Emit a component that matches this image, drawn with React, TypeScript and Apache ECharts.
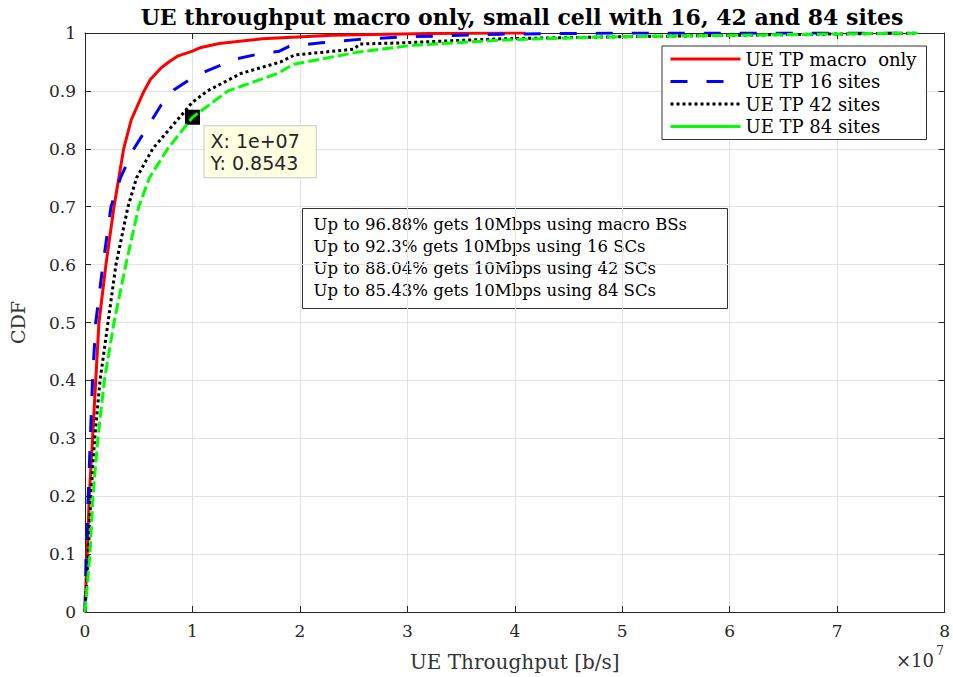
import React, { useEffect, useRef } from "react";
import * as echarts from "echarts";

const titleText = "UE throughput macro only, small cell with 16, 42 and 84 sites";
const seriesNames = ["UE TP macro  only", "UE TP 16 sites", "UE TP 42 sites", "UE TP 84 sites"];

// x: UE throughput [b/s], y: CDF
const macroOnly: [number, number][] = [
  [0, 0], [0.5e5, 0.03], [2e5, 0.1], [4e5, 0.2], [7e5, 0.3], [1.0e6, 0.4], [1.3e6, 0.5],
  [1.95e6, 0.6], [2.7e6, 0.7], [3.6e6, 0.8], [4.3e6, 0.85], [5.5e6, 0.9], [6.1e6, 0.92],
  [7.1e6, 0.94], [7.8e6, 0.95], [8.6e6, 0.96], [1e7, 0.9688], [1.08e7, 0.975], [1.25e7, 0.982],
  [1.65e7, 0.99], [2.3e7, 0.996], [3.2e7, 0.999], [4.1e7, 1],
];
const sites16: [number, number][] = [
  [0, 0], [1e5, 0.1], [3e5, 0.2], [5e5, 0.3], [7e5, 0.4], [1.0e6, 0.5], [1.67e6, 0.6],
  [2.42e6, 0.7], [3.3e6, 0.75], [4.55e6, 0.8], [5.9e6, 0.84], [7.1e6, 0.876], [8.3e6, 0.902],
  [1e7, 0.923], [1.14e7, 0.935], [1.4e7, 0.955], [1.65e7, 0.965], [1.8e7, 0.968], [1.9e7, 0.977],
  [2.2e7, 0.983], [2.55e7, 0.989], [2.94e7, 0.993], [3.87e7, 0.998], [5e7, 1], [7.75e7, 1],
];
const sites42: [number, number][] = [
  [0, 0], [3e5, 0.1], [5.5e5, 0.2], [9e5, 0.3], [1.4e6, 0.4], [2.14e6, 0.5], [2.88e6, 0.6],
  [4.0e6, 0.7], [4.8e6, 0.75], [6.3e6, 0.8], [8.6e6, 0.85], [1e7, 0.8804], [1.14e7, 0.9],
  [1.45e7, 0.93], [1.82e7, 0.95], [1.95e7, 0.962], [2.5e7, 0.972], [2.56e7, 0.981],
  [2.94e7, 0.983], [3.87e7, 0.99], [4.8e7, 0.993], [6e7, 0.996], [7.75e7, 1],
];
const sites84: [number, number][] = [
  [0, 0], [4.6e5, 0.1], [7.4e5, 0.2], [1.2e6, 0.3], [1.8e6, 0.4], [2.7e6, 0.5], [3.8e6, 0.6],
  [5.0e6, 0.7], [6.0e6, 0.75], [7.7e6, 0.8], [1e7, 0.8543], [1.33e7, 0.9], [1.79e7, 0.93],
  [1.94e7, 0.946], [2.54e7, 0.967], [3.06e7, 0.979], [3.9e7, 0.988], [4.8e7, 0.993],
  [6e7, 0.996], [7.75e7, 1],
];

const xTickLabels = ["0", "1", "2", "3", "4", "5", "6", "7", "8"];
const yTickLabels = ["0", "0.1", "0.2", "0.3", "0.4", "0.5", "0.6", "0.7", "0.8", "0.9", "1"];
const xExponent = "7";

const dataTipX = 1e7;
const dataTipY = 0.8543;
const dataTipXLabel = "1e+07";
const dataTipYLabel = "0.8543";

const annotationLines = [
  "Up to 96.88% gets 10Mbps using macro BSs",
  "Up to 92.3% gets 10Mbps using 16 SCs",
  "Up to 88.04% gets 10Mbps using 42 SCs",
  "Up to 85.43% gets 10Mbps using 84 SCs",
];

const SERIF = "'DejaVu Serif', serif";
const SANS = "'DejaVu Sans', sans-serif";
const AXIS = "#262626";

export default function App() {
  const ref = useRef<HTMLDivElement>(null);

  useEffect(() => {
    if (!ref.current) return;
    const chart = echarts.init(ref.current, undefined, { renderer: "svg" });

    const styles = [
      { color: "#ff0000", type: "solid" as any },
      { color: "#0000ff", type: [17, 19] as any },
      { color: "#000000", type: [3, 3] as any },
      { color: "#00ff00", type: [11, 4] as any },
    ];
    const datasets = [macroOnly, sites16, sites42, sites84];

    const series: any[] = datasets.map((d, i) => ({
      name: seriesNames[i],
      type: "line",
      data: d,
      showSymbol: false,
      symbol: "none",
      smooth: false,
      xAxisIndex: 0,
      yAxisIndex: 0,
      lineStyle: { color: styles[i].color, width: 3, type: styles[i].type },
      itemStyle: { color: styles[i].color },
      emphasis: { disabled: true },
      z: 2 + i,
    }));

    series[3].markPoint = {
      silent: true,
      animation: false,
      data: [
        {
          coord: [dataTipX, dataTipY],
          symbol: "rect",
          symbolSize: 13,
          itemStyle: { color: "#000", borderColor: "#000" },
          label: {
            show: true,
            position: [19.5, 16.5],
            align: "left",
            verticalAlign: "top",
            formatter: `X: ${dataTipXLabel}\nY: ${dataTipYLabel}`,
            backgroundColor: "#ffffe1",
            borderColor: "#c8c8c8",
            borderWidth: 1,
            padding: [4, 16, 3, 6],
            fontFamily: SANS,
            fontSize: 19,
            lineHeight: 22,
            color: "#262626",
          },
        },
      ],
    };

    const option: any = {
      animation: false,
      backgroundColor: "#ffffff",
      title: {
        text: titleText,
        left: 517,
        top: 1,
        textAlign: "center",
        textStyle: { fontFamily: SERIF, fontWeight: "bold", fontSize: 22, color: "#000" },
      },
      legend: {
        orient: "vertical",
        left: 662,
        top: 46,
        padding: [4, 10, 4, 7],
        itemWidth: 70,
        itemHeight: 14,
        itemGap: 4.5,
        backgroundColor: "#fff",
        borderColor: "#333",
        borderWidth: 1,
        selectedMode: false,
        itemStyle: { color: "rgba(0,0,0,0)", borderWidth: 0, opacity: 0 },
        textStyle: { fontFamily: SERIF, fontSize: 18, color: "#000" },
        data: seriesNames.map((n, i) => ({
          name: n,
          itemStyle: { color: "rgba(0,0,0,0)", borderWidth: 0, opacity: 0 },
          lineStyle: { color: styles[i].color, width: 3, type: i === 3 ? "solid" : styles[i].type },
        })),
      },
      grid: { left: 84, right: 8, top: 33, bottom: 63, containLabel: false },
      xAxis: [
        {
          type: "value",
          min: 0,
          max: 8e7,
          interval: 1e7,
          name: "UE Throughput [b/s]",
          nameLocation: "middle",
          nameGap: 40,
          nameTextStyle: { fontFamily: SERIF, fontSize: 20, color: "#333" },
          axisLine: { show: true, onZero: false, lineStyle: { color: AXIS, width: 1 } },
          axisTick: { show: true, inside: true, length: 6, lineStyle: { color: AXIS } },
          axisLabel: {
            margin: 10,
            fontFamily: SERIF,
            fontSize: 17,
            color: AXIS,
            formatter: (v: number) => xTickLabels[Math.round(v / 1e7)] ?? "",
          },
          splitLine: { show: true, lineStyle: { color: "#e3e3e3", width: 1 } },
        },
        {
          type: "value",
          position: "top",
          min: 0,
          max: 8e7,
          interval: 1e7,
          axisLine: { show: true, onZero: false, lineStyle: { color: AXIS, width: 1 } },
          axisTick: { show: true, inside: true, length: 6, lineStyle: { color: AXIS } },
          axisLabel: { show: false },
          splitLine: { show: false },
        },
      ],
      yAxis: [
        {
          type: "value",
          min: 0,
          max: 1,
          interval: 0.1,
          name: "CDF",
          nameLocation: "middle",
          nameGap: 58,
          nameTextStyle: { fontFamily: SERIF, fontSize: 19, color: "#333" },
          axisLine: { show: true, onZero: false, lineStyle: { color: AXIS, width: 1 } },
          axisTick: { show: true, inside: true, length: 6, lineStyle: { color: AXIS } },
          axisLabel: {
            margin: 9,
            fontFamily: SERIF,
            fontSize: 17,
            color: AXIS,
            formatter: (v: number) => yTickLabels[Math.round(v * 10)] ?? "",
          },
          splitLine: { show: true, lineStyle: { color: "#e3e3e3", width: 1 } },
        },
        {
          type: "value",
          position: "right",
          min: 0,
          max: 1,
          interval: 0.1,
          axisLine: { show: true, onZero: false, lineStyle: { color: AXIS, width: 1 } },
          axisTick: { show: true, inside: true, length: 6, lineStyle: { color: AXIS } },
          axisLabel: { show: false },
          splitLine: { show: false },
        },
      ],
      graphic: [
        {
          type: "group",
          left: 302,
          top: 208,
          z: 100,
          children: [
            {
              type: "rect",
              shape: { x: 0, y: 0, width: 425, height: 100 },
              style: { fill: "#fff", stroke: "#333", lineWidth: 1 },
            },
            {
              type: "text",
              x: 11,
              y: 5,
              style: {
                text: annotationLines.join("\n"),
                fontFamily: SERIF,
                fontSize: 16.5,
                lineHeight: 22,
                fill: "#000",
                textAlign: "left",
                textVerticalAlign: "top",
              },
            },
          ],
        },
        {
          type: "text",
          right: 19,
          top: 651,
          style: { text: "×10", fontFamily: SERIF, fontSize: 18, fill: "#333" },
        },
        {
          type: "text",
          right: 9,
          top: 645,
          style: { text: xExponent, fontFamily: SERIF, fontSize: 12, fill: "#333" },
        },
      ],
      series,
    };

    chart.setOption(option);
    return () => chart.dispose();
  }, []);

  return (
    <div
      ref={ref}
      style={{ position: "fixed", left: 0, top: 0, width: 953, height: 677, background: "#fff" }}
    />
  );
}
